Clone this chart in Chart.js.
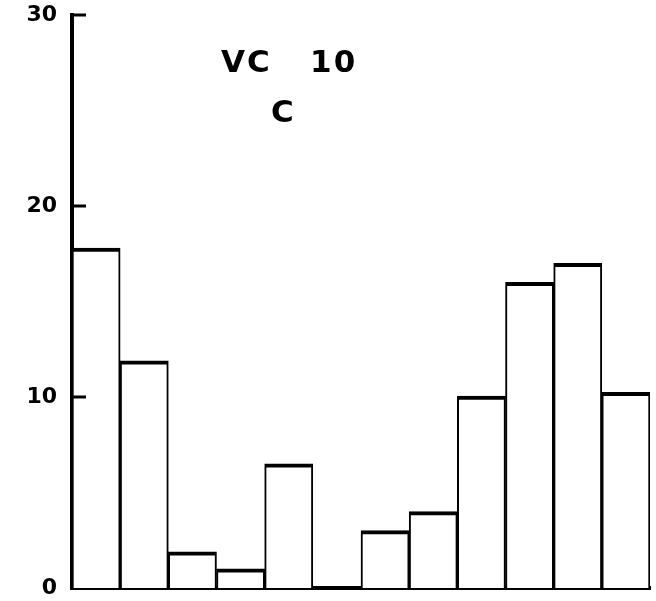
<!DOCTYPE html>
<html>
<head>
<meta charset="utf-8">
<script src="https://cdn.jsdelivr.net/npm/chart.js@4.4.0/dist/chart.umd.min.js"></script>
<style>
  body { margin: 0; background: #fff; }
  #wrap { position: relative; width: 656px; height: 601px; }
  .lbl { position: absolute; font-family: "DejaVu Sans", sans-serif; font-size: 31px; font-weight: bold; color: #000; white-space: pre; line-height: 1; }
</style>
</head>
<body>
<div id="wrap">
  <canvas id="myChart" width="656" height="601"></canvas>
  <div class="lbl" id="t1" style="left:221px; top:46px; letter-spacing:2px;">VC   10</div>
  <div class="lbl" id="t2" style="left:271px; top:96px;">C</div>
</div>
<script>
// bin values (bin 6 is empty)
const categories = ['1','2','3','4','5','6','7','8','9','10','11','12'];
const counts = [17.8, 11.9, 1.9, 1.0, 6.5, null, 3.0, 4.0, 10.05, 16.0, 17.0, 10.25];
const yTicks = [0, 10, 20, 30];

// short ticks pointing into the plot, like the original
const innerTicks = {
  id: 'innerTicks',
  afterDraw(chart) {
    const ctx = chart.ctx;
    const y = chart.scales.y;
    ctx.save();
    ctx.strokeStyle = '#000';
    ctx.lineWidth = 3;
    yTicks.forEach(v => {
      if (v === 0) return;
      const py = y.getPixelForValue(v);
      ctx.beginPath();
      ctx.moveTo(y.right, py);
      ctx.lineTo(y.right + 14, py);
      ctx.stroke();
    });
    ctx.restore();
  }
};

const ctx = document.getElementById('myChart').getContext('2d');
const chart = new Chart(ctx, {
  type: 'bar',
  data: {
    labels: categories,
    datasets: [{
      data: counts,
      backgroundColor: '#fff',
      borderColor: '#000',
      borderWidth: { top: 4, left: 2, right: 2, bottom: 0 },
      barPercentage: 1,
      categoryPercentage: 1
    }]
  },
  options: {
    responsive: false,
    animation: false,
    layout: { padding: { top: 15, bottom: 13, right: 6, left: 0 } },
    plugins: { legend: { display: false }, tooltip: { enabled: false } },
    scales: {
      x: {
        grid: { display: false },
        ticks: { display: false },
        border: { display: true, color: '#000', width: 4 },
        afterFit: s => { s.height = 0; s.paddingLeft = 0; s.paddingRight = 0; }
      },
      y: {
        min: 0,
        max: 30,
        afterBuildTicks: s => { s.ticks = yTicks.map(v => ({ value: v })); },
        grid: { display: false, drawTicks: false },
        border: { display: true, color: '#000', width: 4 },
        ticks: {
          color: '#000',
          padding: 15,
          font: { family: "'DejaVu Sans'", size: 22, weight: 'bold' }
        },
        afterFit: s => { s.width = 72; s.paddingTop = 0; s.paddingBottom = 0; }
      }
    }
  },
  plugins: [innerTicks]
});
</script>
</body>
</html>
